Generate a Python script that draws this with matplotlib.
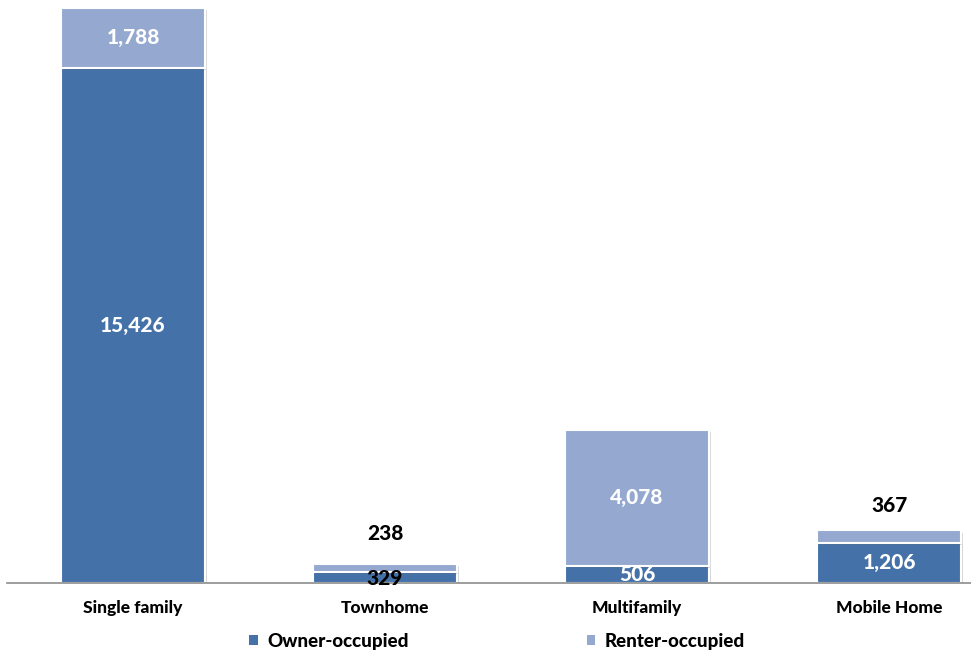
import matplotlib.pyplot as plt
from matplotlib import patheffects

plt.rcParams['font.family'] = ['Lato', 'DejaVu Sans']

categories = ['Single family', 'Townhome', 'Multifamily', 'Mobile Home']
owner = [15426, 329, 506, 1206]
renter = [1788, 238, 4078, 367]
series_names = ['Owner-occupied', 'Renter-occupied']

owner_color = '#4472a8'
renter_color = '#95a9d0'
wt = 900

fig = plt.figure(figsize=(9.71, 6.55), dpi=100)
ax = fig.add_axes([7 / 971, 72 / 655, 1 - 7 / 971, 583 / 655])

x = range(len(categories))
shadow = [patheffects.SimplePatchShadow(offset=(1.5, -1.5), alpha=0.18), patheffects.Normal()]
b1 = ax.bar(x, owner, width=0.57, color=owner_color, edgecolor='white', linewidth=1.5,
            label=series_names[0], zorder=2)
b2 = ax.bar(x, renter, width=0.57, bottom=owner, color=renter_color, edgecolor='white',
            linewidth=1.5, label=series_names[1], zorder=2)
for b in list(b1) + list(b2):
    b.set_path_effects(shadow)

ax.set_xlim(-0.5, 3.325)
ax.set_ylim(0, 17453)

# segment labels
fs = 15
for i in x:
    o, r = owner[i], renter[i]
    if i == 1:
        ax.text(i, o / 2 - 40, f'{o:,}', ha='center', va='center', fontsize=fs,
                fontweight=wt, color='black', zorder=3)
    else:
        ax.text(i, o / 2, f'{o:,}', ha='center', va='center', fontsize=fs,
                fontweight=wt, color='white', zorder=3)
    if i in (0, 2):
        ax.text(i, o + r / 2, f'{r:,}', ha='center', va='center', fontsize=fs,
                fontweight=wt, color='white', zorder=3)
    else:
        off = 22 if i == 1 else 18
        ax.annotate(f'{r:,}', (i, o + r), xytext=(0, off), textcoords='offset points',
                    ha='center', va='center', fontsize=fs, fontweight=wt, color='black')

for side in ['top', 'right', 'left']:
    ax.spines[side].set_visible(False)
ax.spines['bottom'].set_color('#8c8c8c')
ax.spines['bottom'].set_linewidth(1.2)
ax.set_yticks([])
ax.set_xticks(list(x))
ax.set_xticklabels(categories, fontsize=12.5, fontweight=wt)
ax.tick_params(axis='x', length=0, pad=12)

leg = fig.legend(handles=[b1, b2], labels=series_names, loc='center',
                 bbox_to_anchor=(497 / 971, 1 - 641 / 655), ncol=2, frameon=False,
                 handlelength=0.45, handleheight=0.45, handletextpad=0.5,
                 columnspacing=9.5, prop={'weight': wt, 'size': 13.5})
for h in leg.legend_handles:
    h.set_edgecolor('none')
    h.set_path_effects([])

fig.savefig('out.png', dpi=100)
